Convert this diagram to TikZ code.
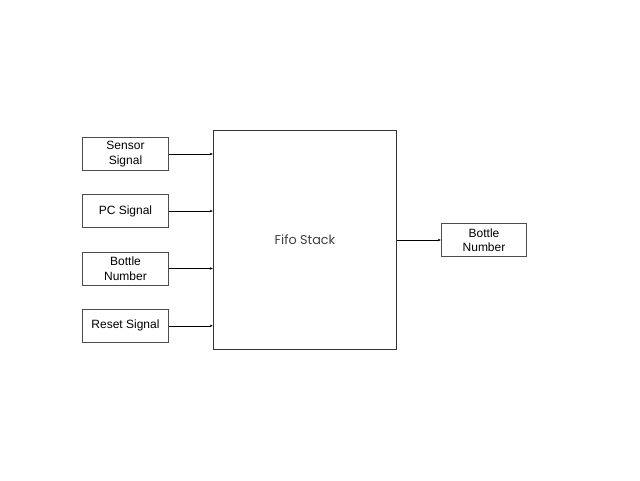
\documentclass[tikz,border=0pt]{standalone}
\usepackage{fontspec}
\setmainfont{Liberation Sans}
\newfontfamily\fifofont{Poppins}
\usetikzlibrary{arrows.meta}
\begin{document}
\begin{tikzpicture}[x=1pt,y=-1pt,
  inbox/.style={draw=black!70,line width=0.9pt,minimum width=85.5pt,minimum height=33pt,inner sep=0pt,align=center,font=\fontsize{12}{14.5}\selectfont},
  bigbox/.style={draw=black!80,line width=0.9pt,minimum width=183.5pt,minimum height=218.5pt,inner sep=0pt,font=\fifofont\fontsize{12.8}{14}\selectfont,text=black!75},
  conn/.style={draw=black,line width=0.6pt,-{Stealth[length=3pt,width=2.5pt]}}]
\useasboundingbox (0,0) rectangle (640,480);
\node[bigbox] (fifo) at (305,240) {Fifo Stack};
\node[inbox] (sensor) at (125.5,154) {Sensor\\Signal};
\node[inbox] (pc) at (125.5,211) {PC Signal};
\node[inbox] (bottle) at (125.5,268.5) {Bottle\\Number};
\node[inbox] (reset) at (125.5,325.8) {Reset Signal};
\node[inbox] (out) at (484,240) {Bottle\\Number};
\draw[conn] (sensor.east) -- (sensor.east -| fifo.west);
\draw[conn] (pc.east) -- (pc.east -| fifo.west);
\draw[conn] (bottle.east) -- (bottle.east -| fifo.west);
\draw[conn] (reset.east) -- (reset.east -| fifo.west);
\draw[conn] (fifo.east |- out.west) -- (out.west);
\end{tikzpicture}
\end{document}
